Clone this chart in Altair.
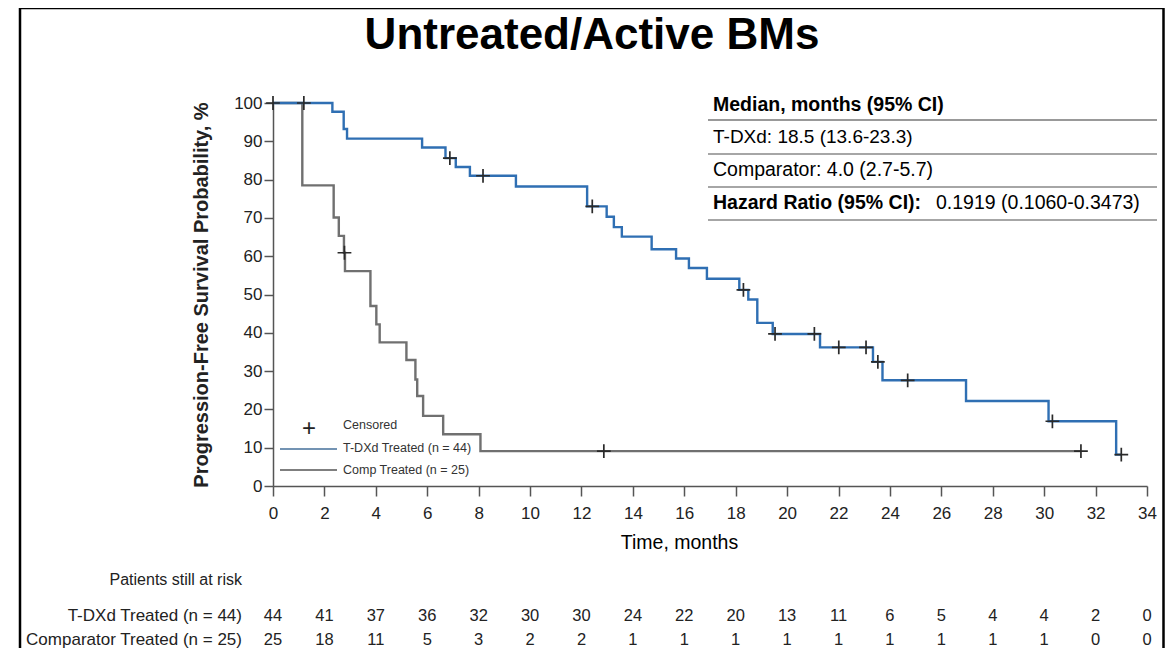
import altair as alt
import pandas as pd

FONT = "Liberation Sans"

# ---------------- data ----------------
tdxd_time = [0, 2.31, 2.75, 2.88, 5.80, 6.71, 7.11, 7.66, 9.45, 12.22, 12.98, 13.26, 13.57,
             14.73, 15.68, 16.18, 16.88, 18.14, 18.49, 18.84, 19.44, 21.28, 23.34, 23.71,
             26.96, 30.17, 32.80, 33.00]
tdxd_surv = [100, 97.7, 93.2, 90.7, 88.4, 85.6, 83.3, 81.0, 78.2, 73.0, 70.3, 67.6, 65.1,
             61.8, 59.4, 56.9, 54.1, 51.2, 48.7, 42.6, 39.7, 36.2, 32.4, 27.6,
             22.2, 16.9, 8.2, 8.2]
comp_time = [0, 1.14, 2.36, 2.56, 2.76, 2.80, 3.79, 4.02, 4.15, 5.19, 5.54, 5.61, 5.84,
             6.62, 8.07, 31.43]
comp_surv = [100, 78.5, 70.1, 65.3, 60.9, 56.1, 47.0, 42.2, 37.5, 32.9, 27.8, 23.5, 18.3,
             13.5, 9.1, 9.1]

tdxd_cens_time = [0, 1.2, 6.88, 8.17, 12.42, 18.30, 19.53, 21.06, 22.01, 23.07, 23.53,
                  24.69, 30.32, 33.00]
tdxd_cens_surv = [100, 100, 85.6, 81.0, 73.0, 51.2, 39.7, 39.7, 36.2, 36.2, 32.4,
                  27.6, 16.9, 8.2]
comp_cens_time = [2.78, 12.87, 31.43]
comp_cens_surv = [60.9, 9.1, 9.1]

risk_months = list(range(0, 35, 2))
risk_tdxd = [44, 41, 37, 36, 32, 30, 30, 24, 22, 20, 13, 11, 6, 5, 4, 4, 2, 0]
risk_comp = [25, 18, 11, 5, 3, 2, 2, 1, 1, 1, 1, 1, 1, 1, 1, 1, 0, 0]

x_ticks = list(range(0, 35, 2))
y_ticks = list(range(0, 101, 10))

colors = ["#2F6FB3", "#707070"]

# ---------------- tables ----------------
tdxd_df = pd.DataFrame({"time": tdxd_time, "surv": tdxd_surv})
comp_df = pd.DataFrame({"time": comp_time, "surv": comp_surv})
cens = pd.DataFrame({"time": tdxd_cens_time + comp_cens_time,
                     "surv": tdxd_cens_surv + comp_cens_surv})
risk = pd.DataFrame({"time": risk_months, "tdxd": risk_tdxd, "comp": risk_comp})
one = pd.DataFrame({"k": [0]})

xscale = alt.Scale(domain=[0, 34], nice=False, zero=False)
yscale = alt.Scale(domain=[0, 100], nice=False)

x_axis = alt.Axis(values=x_ticks, title="Time, months",
                  titleFontSize=19.5, titleFontWeight="normal", titleColor="#000",
                  titlePadding=12, titleX=406, titleAlign="center",
                  labelFontSize=17, labelColor="#222", labelFlush=False,
                  labelOverlap=False,
                  labelPadding=9, tickSize=10, tickColor="#555", domainColor="#555",
                  domainWidth=1.5, tickWidth=1.5, labelFont=FONT, titleFont=FONT)
y_axis = alt.Axis(values=y_ticks,
                  title="Progression-Free Survival Probability, %",
                  titleFontSize=20, titleFontWeight="bold", titleColor="#222",
                  titlePadding=22, labelFontSize=17, labelColor="#222",
                  labelFlush=False, labelOverlap=False,
                  labelPadding=2, tickSize=9, tickColor="#555", domainColor="#555",
                  domainWidth=1.5, tickWidth=1.5, labelFont=FONT, titleFont=FONT)

X = alt.X("time:Q", scale=xscale, axis=x_axis)
Y = alt.Y("surv:Q", scale=yscale, axis=y_axis)

lines_comp = alt.Chart(comp_df).mark_line(
    interpolate="step-after", strokeWidth=2.4, color=colors[1]).encode(x=X, y=Y)
lines_tdxd = alt.Chart(tdxd_df).mark_line(
    interpolate="step-after", strokeWidth=2.4, color=colors[0]).encode(x=X, y=Y)

PLUS = "M -1 0 L 1 0 M 0 -1 L 0 1"
censor = alt.Chart(cens).mark_point(shape=PLUS, filled=False, size=190, strokeWidth=1.7,
                                    color="#2a2a2a", opacity=1).encode(x=X, y=Y)

RT_Y, RC_Y, RP_Y = 513, 537, 477

risk_t = alt.Chart(risk).mark_text(fontSize=16.5, font=FONT, color="#222",
                                   baseline="middle").encode(
    x=X, y=alt.value(RT_Y), text="tdxd:Q")
risk_c = alt.Chart(risk).mark_text(fontSize=16.5, font=FONT, color="#222",
                                   baseline="middle").encode(
    x=X, y=alt.value(RC_Y), text="comp:Q")


def label(text, x, y, size, weight="normal", align="left", color="#000"):
    return alt.Chart(one).mark_text(text=text, fontSize=size, fontWeight=weight,
                                    align=align, baseline="middle", font=FONT,
                                    color=color).encode(x=alt.value(x), y=alt.value(y))


def hrule(x1, x2, y, color="#888", width=1.5):
    return alt.Chart(one).mark_rule(color=color, strokeWidth=width).encode(
        x=alt.value(x1), x2=alt.value(x2), y=alt.value(y))


frame = alt.Chart(one).mark_rect(fillOpacity=0, stroke="#000", strokeWidth=2.5).encode(
    x=alt.value(-253), x2=alt.value(890.5), y=alt.value(-95), y2=alt.value(700))

title = label("Untreated/Active BMs", 319, -67, 44, "bold", "center")

table = [
    label("Median, months (95% CI)", 440, 2, 19.5, "bold"),
    hrule(435, 884, 17, "#777"),
    label("T-DXd: 18.5 (13.6-23.3)", 440, 34, 19),
    hrule(435, 884, 51),
    label("Comparator: 4.0 (2.7-5.7)", 440, 67, 19.5),
    hrule(435, 884, 84),
    label("Hazard Ratio (95% CI):", 440, 100, 19.5, "bold"),
    label("0.1919 (0.1060-0.3473)", 663, 100, 19.5),
    hrule(435, 884, 117),
]

legend = [
    label("+", 36, 326, 24, "normal", "center", "#222"),
    label("Censored", 70, 322, 12.5, color="#333"),
    hrule(7, 64, 346, "#7393B3", 2.2),
    label("T-DXd Treated (n = 44)", 70, 345, 12.5, color="#333"),
    hrule(7, 64, 367, "#7f7f7f", 2.2),
    label("Comp Treated (n = 25)", 70, 367, 12.5, color="#333"),
]

risk_labels = [
    label("Patients still at risk", -31, RP_Y, 16, color="#222", align="right"),
    label("T-DXd Treated (n = 44)", -31, RT_Y, 17, color="#222", align="right"),
    label("Comparator Treated (n = 25)", -31, RC_Y, 17, color="#222", align="right"),
]

chart = alt.layer(
    lines_comp, lines_tdxd, censor, risk_t, risk_c, frame, title,
    *table, *legend, *risk_labels
).properties(
    width=874, height=383,
    padding={"left": 265, "top": 95, "right": 18, "bottom": 162},
    autosize=alt.AutoSizeParams(type="none"),
).configure_view(stroke=None).configure_axis(grid=False)

chart.save("out.html", embed_options={"renderer": "svg", "actions": False})
